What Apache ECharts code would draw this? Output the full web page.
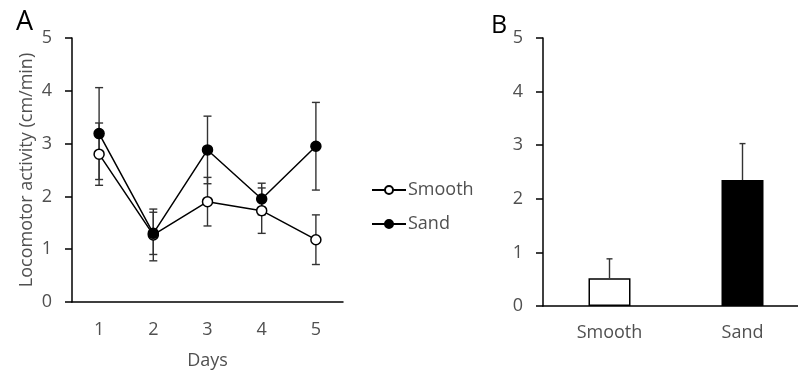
<!DOCTYPE html>
<html>
<head>
<meta charset="utf-8">
<script src="https://cdn.jsdelivr.net/npm/echarts@6/dist/echarts.min.js"></script>
<style>
  html, body { margin: 0; padding: 0; background: #fff; }
  #main { width: 798px; height: 370px; }
</style>
</head>
<body>
<div id="main"></div>
<script>
// panel A: activity per day
var days = ['1', '2', '3', '4', '5'];
var smoothMean = [2.80, 1.27, 1.90, 1.73, 1.18];
var smoothErr  = [0.59, 0.49, 0.46, 0.43, 0.47];
var sandMean   = [3.19, 1.30, 2.88, 1.95, 2.95];
var sandErr    = [0.87, 0.40, 0.64, 0.30, 0.83];
// panel B: group means
var groups     = ['Smooth', 'Sand'];
var groupMean  = [0.52, 2.35];
var groupErr   = [0.36, 0.68];

var textColor = '#505050';
var font = 'Open Sans';
var fs = 18;

function errData(mean, err) {
  return mean.map(function (m, i) { return [i, m, err[i]]; });
}

// draws error bars; both = true draws the lower half too
function errorBar(both, half) {
  return function (params, api) {
    var i = api.value(0), m = api.value(1), e = api.value(2);
    var top = api.coord([i, m + e]);
    var bot = api.coord([i, both ? m - e : m]);
    var st = { stroke: '#333', lineWidth: 1.4 };
    var kids = [
      { type: 'line', shape: { x1: top[0], y1: top[1], x2: bot[0], y2: bot[1] }, style: st },
      { type: 'line', shape: { x1: top[0] - half, y1: top[1], x2: top[0] + half, y2: top[1] }, style: st }
    ];
    if (both) {
      kids.push({ type: 'line', shape: { x1: bot[0] - half, y1: bot[1], x2: bot[0] + half, y2: bot[1] }, style: st });
    }
    return { type: 'group', children: kids };
  };
}

function yAxis(gridIndex) {
  return {
    type: 'value', gridIndex: gridIndex, min: 0, max: 5, interval: 1,
    axisLine: { show: true, lineStyle: { color: '#000', width: 1.5 } },
    axisTick: { show: true, inside: false, length: 7, lineStyle: { color: '#000', width: 1.5 } },
    axisLabel: { color: textColor, fontSize: fs, fontFamily: font, margin: 20 },
    splitLine: { show: false }
  };
}

var chart = echarts.init(document.getElementById('main'));
chart.setOption({
  animation: false,
  title: [
    { text: 'A', left: 11, top: 4, textStyle: { fontSize: 27, fontWeight: 'normal', color: '#000', fontFamily: font } },
    { text: 'B', left: 486, top: 8, textStyle: { fontSize: 25, fontWeight: 'normal', color: '#000', fontFamily: font } }
  ],
  legend: {
    data: ['Smooth', 'Sand'],
    orient: 'vertical',
    left: 366, top: 176,
    itemWidth: 34, itemHeight: 10, itemGap: 16,
    textStyle: { color: textColor, fontSize: fs, fontFamily: font, padding: [0, 0, 0, -3] }
  },
  grid: [
    { left: 72, top: 38, width: 271, height: 264, outerBoundsMode: 'none' },
    { left: 543, top: 38, width: 266, height: 268, outerBoundsMode: 'none' }
  ],
  xAxis: [
    {
      type: 'category', gridIndex: 0, data: days,
      name: 'Days', nameLocation: 'middle', nameGap: 50,
      nameTextStyle: { color: textColor, fontSize: fs, fontFamily: font },
      axisLine: { lineStyle: { color: '#000', width: 1.5 } },
      axisTick: { show: false },
      axisLabel: { color: textColor, fontSize: fs, fontFamily: font, margin: 19 }
    },
    {
      type: 'category', gridIndex: 1, data: groups,
      axisLine: { lineStyle: { color: '#000', width: 1.5 } },
      axisTick: { show: false },
      axisLabel: { color: textColor, fontSize: fs, fontFamily: font, margin: 18 }
    }
  ],
  yAxis: [
    Object.assign(yAxis(0), {
      name: 'Locomotor activity (cm/min)', nameLocation: 'middle', nameGap: 36,
      nameTextStyle: { color: textColor, fontSize: fs, fontFamily: font }
    }),
    yAxis(1)
  ],
  series: [
    {
      type: 'custom', name: 'smoothErr', xAxisIndex: 0, yAxisIndex: 0, z: 1,
      renderItem: errorBar(true, 4), data: errData(smoothMean, smoothErr)
    },
    {
      type: 'custom', name: 'sandErr', xAxisIndex: 0, yAxisIndex: 0, z: 1,
      renderItem: errorBar(true, 4), data: errData(sandMean, sandErr)
    },
    {
      type: 'line', name: 'Smooth', xAxisIndex: 0, yAxisIndex: 0, data: smoothMean,
      symbol: 'circle', symbolSize: 10,
      lineStyle: { color: '#000', width: 1.5 },
      itemStyle: { color: '#fff', borderColor: '#000', borderWidth: 1.5 }
    },
    {
      type: 'line', name: 'Sand', xAxisIndex: 0, yAxisIndex: 0, data: sandMean,
      symbol: 'circle', symbolSize: 10,
      lineStyle: { color: '#000', width: 1.5 },
      itemStyle: { color: '#000', borderColor: '#000', borderWidth: 1.5 }
    },
    {
      type: 'bar', name: 'groups', xAxisIndex: 1, yAxisIndex: 1, barWidth: 42,
      data: groupMean.map(function (v, i) {
        return { value: v, itemStyle: { color: i === 0 ? '#fff' : '#000', borderColor: '#000', borderWidth: 1.5 } };
      })
    },
    {
      type: 'custom', name: 'groupErr', xAxisIndex: 1, yAxisIndex: 1, z: 3,
      renderItem: errorBar(false, 3), data: errData(groupMean, groupErr)
    }
  ]
});
</script>
</body>
</html>
